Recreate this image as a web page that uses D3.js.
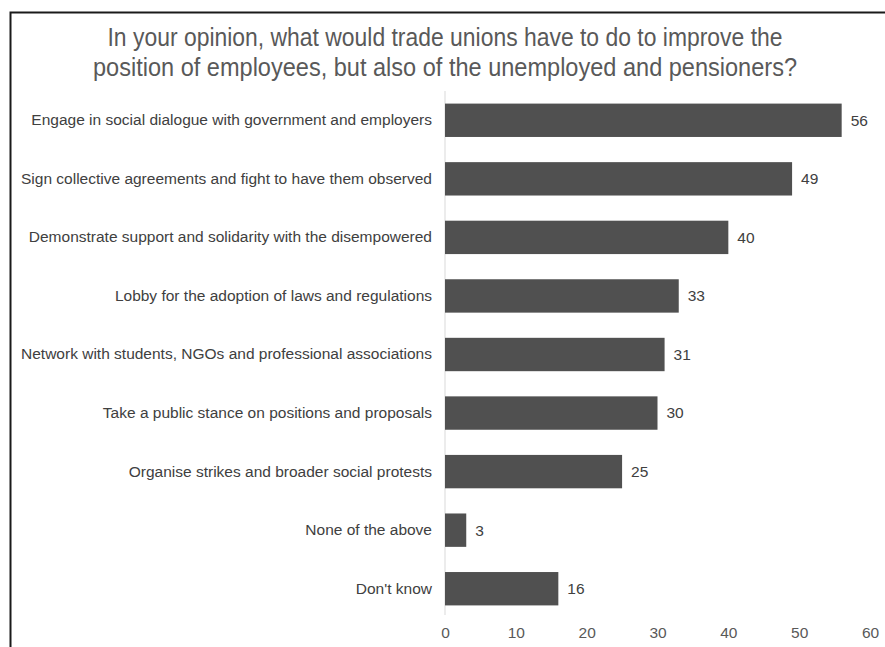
<!DOCTYPE html>
<html>
<head>
<meta charset="utf-8">
<script src="https://cdn.jsdelivr.net/npm/d3@7"></script>
<style>
  body { margin: 0; background: #fff; }
  svg { display: block; }
</style>
</head>
<body>
<div id="chart"></div>
<script>
// data
var categories = [
  "Engage in social dialogue with government and employers",
  "Sign collective agreements and fight to have them observed",
  "Demonstrate support and solidarity with the disempowered",
  "Lobby for the adoption of laws and regulations",
  "Network with students, NGOs and professional associations",
  "Take a public stance on positions and proposals",
  "Organise strikes and broader social protests",
  "None of the above",
  "Don't know"
];
var values = [56, 49, 40, 33, 31, 30, 25, 3, 16];
var xTicks = [0, 10, 20, 30, 40, 50, 60];
var titleLines = [
  "In your opinion, what would trade unions have to do to improve the",
  "position of employees, but also of the unemployed and pensioners?"
];
var titleWidths = [675, 704];

var W = 885, H = 647;
var margin = {top: 91, right: 15, bottom: 29, left: 445};

var svg = d3.select("#chart").append("svg")
  .attr("width", W)
  .attr("height", H);

// frame
svg.append("path")
  .attr("d", "M10.5," + H + " V12.5 H" + W)
  .attr("fill", "none")
  .attr("stroke", "#1a1a1a")
  .attr("stroke-width", 2);

// title (narrow look via textLength, no narrow font installed)
svg.selectAll(".title")
  .data(titleLines)
  .enter().append("text")
  .attr("class", "title")
  .attr("x", 445)
  .attr("y", function(d, i) { return 46 + i * 30; })
  .attr("text-anchor", "middle")
  .attr("textLength", function(d, i) { return titleWidths[i]; })
  .attr("lengthAdjust", "spacingAndGlyphs")
  .attr("font-family", "'Liberation Sans', Arial, sans-serif")
  .attr("font-size", 25)
  .attr("fill", "#595959")
  .text(function(d) { return d; });

var x = d3.scaleLinear()
  .domain([0, 60])
  .range([margin.left, 870]);

var y = d3.scaleBand()
  .domain(categories)
  .range([margin.top, H - margin.bottom])
  .paddingInner(0.43)
  .paddingOuter(0.215);

// zero line
svg.append("line")
  .attr("x1", x(0)).attr("x2", x(0))
  .attr("y1", margin.top).attr("y2", H - margin.bottom - 3)
  .attr("stroke", "#d9d9d9")
  .attr("stroke-width", 1);

// bars
svg.selectAll(".bar")
  .data(values)
  .enter().append("rect")
  .attr("class", "bar")
  .attr("x", x(0))
  .attr("y", function(d, i) { return y(categories[i]); })
  .attr("width", function(d) { return x(d) - x(0); })
  .attr("height", y.bandwidth())
  .attr("fill", "#505050");

// value labels
svg.selectAll(".val")
  .data(values)
  .enter().append("text")
  .attr("class", "val")
  .attr("x", function(d) { return x(d) + 9; })
  .attr("y", function(d, i) { return y(categories[i]) + y.bandwidth() / 2; })
  .attr("dy", "0.35em")
  .attr("font-family", "'Liberation Sans', Arial, sans-serif")
  .attr("font-size", 15.5)
  .attr("fill", "#404040")
  .text(function(d) { return d; });

// category labels
var yAxis = svg.append("g")
  .attr("transform", "translate(" + (x(0) - 1) + ",0)")
  .call(d3.axisLeft(y).tickSize(0).tickPadding(12));
yAxis.select(".domain").remove();
yAxis.selectAll("text")
  .attr("font-family", "'Liberation Sans', Arial, sans-serif")
  .attr("font-size", 15.5)
  .attr("fill", "#404040");

// x axis
var xAxis = svg.append("g")
  .attr("transform", "translate(0," + (H - margin.bottom) + ")")
  .call(d3.axisBottom(x).tickValues(xTicks).tickSize(0).tickPadding(9));
xAxis.select(".domain").remove();
xAxis.selectAll("text")
  .attr("font-family", "'Liberation Sans', Arial, sans-serif")
  .attr("font-size", 15.5)
  .attr("fill", "#595959");
</script>
</body>
</html>
